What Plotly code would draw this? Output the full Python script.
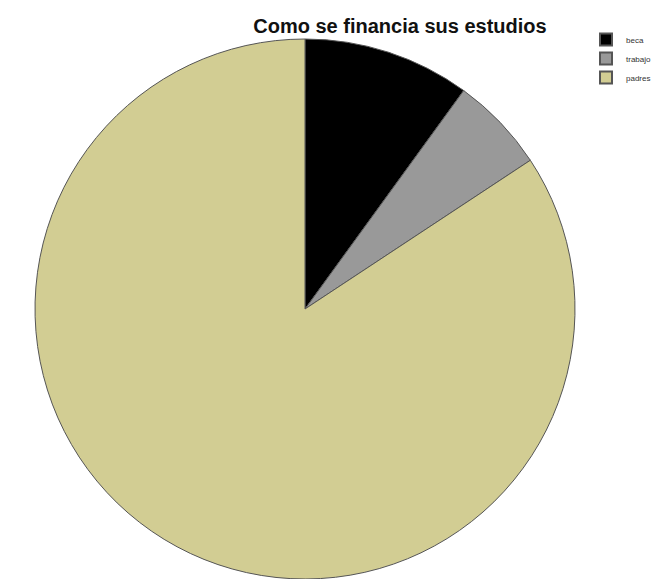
import plotly.graph_objects as go

categories = ["beca", "trabajo", "padres"]
values = [7, 4, 59]
colors = ["#000000", "#999999", "#d2cd93"]

# the page body adds an 8px margin, so the figure is 8px smaller
W, H = 655, 571
cx, cy, r = 297, 301, 270

fig = go.Figure(go.Pie(
    labels=categories,
    values=values,
    sort=False,
    direction="clockwise",
    rotation=0,
    textinfo="none",
    hoverinfo="label+value+percent",
    marker=dict(colors=colors, line=dict(color="#555555", width=1)),
    domain=dict(x=[(cx - r) / W, (cx + r) / W], y=[max(0, (H - (cy + r)) / H), (H - (cy - r)) / H]),
))

fig.update_layout(
    width=W, height=H,
    margin=dict(l=0, r=0, t=0, b=0, autoexpand=False),
    paper_bgcolor="white",
    plot_bgcolor="white",
    title=dict(text="<b>Como se financia sus estudios</b>", x=392 / W, xanchor="center",
               y=1 - 18 / H, yanchor="middle",
               font=dict(family="Liberation Sans, Arial", size=20, color="#111111")),
    legend=dict(x=578 / W, y=1 - 17 / H, xanchor="left", yanchor="top",
                font=dict(family="Liberation Sans, Arial", size=8, color="#333333"),
                itemsizing="constant", tracegroupgap=0, itemwidth=30,
                bgcolor="rgba(0,0,0,0)"),
)

fig.write_html("out.html")
